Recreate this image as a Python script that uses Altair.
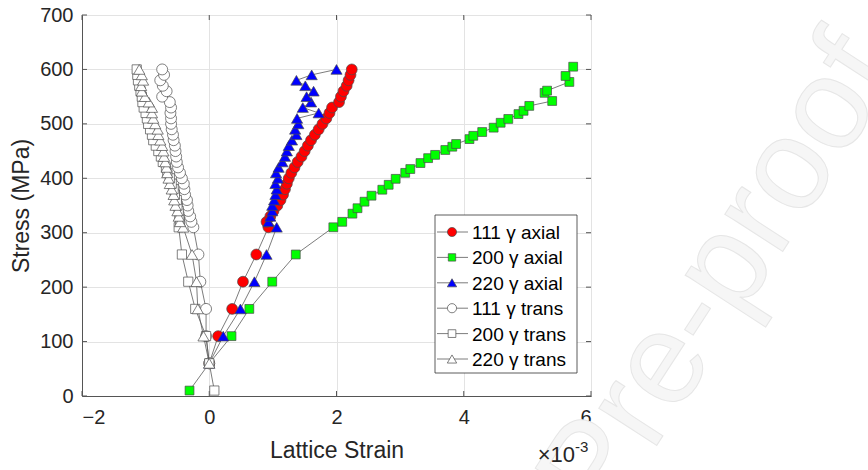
import altair as alt
import pandas as pd

# ---------------- data (strain in units of 1e-3, stress in MPa) ----------------
stress_levels = [60, 110, 160, 210, 260, 310, 320, 330, 340, 350, 360, 370, 380, 390,
                 400, 410, 420, 430, 440, 450, 460, 470, 480, 490, 500, 510, 520, 530,
                 540, 550, 560, 570, 580, 590, 600]

strain_111_axial = [0.00, 0.14, 0.36, 0.53, 0.74, 0.93, 0.90, 0.96, 1.01, 1.07, 1.12, 1.16,
                    1.19, 1.22, 1.25, 1.29, 1.34, 1.39, 1.45, 1.50, 1.55, 1.60, 1.66, 1.72,
                    1.78, 1.84, 1.89, 1.93, 2.04, 2.07, 2.11, 2.16, 2.19, 2.22, 2.24]

strain_220_axial = [0.00, 0.22, 0.49, 0.71, 0.90, 1.06, 0.93, 0.96, 0.99, 0.99, 1.02, 1.04,
                    1.06, 1.04, 1.08, 1.05, 1.09, 1.15, 1.19, 1.22, 1.25, 1.30, 1.37, 1.35,
                    1.40, 1.38, 1.72, 1.47, 1.60, 1.53, 1.64, 1.51, 1.37, 1.61, 2.00]

strain_111_trans = [0.00, -0.05, -0.05, -0.14, -0.17, -0.25, -0.28, -0.30, -0.33, -0.34, -0.35,
                    -0.38, -0.39, -0.40, -0.43, -0.46, -0.49, -0.51, -0.52, -0.53, -0.54, -0.56,
                    -0.57, -0.59, -0.60, -0.60, -0.61, -0.60, -0.62, -0.74, -0.67, -0.73, -0.77,
                    -0.71, -0.74]

strain_220_trans = [0.00, -0.09, -0.18, -0.20, -0.27, -0.41, -0.46, -0.48, -0.50, -0.53, -0.55,
                    -0.56, -0.59, -0.62, -0.64, -0.66, -0.67, -0.69, -0.71, -0.72, -0.74, -0.77,
                    -0.80, -0.81, -0.85, -0.88, -0.90, -0.90, -0.95, -1.01, -1.06, -1.07, -1.04,
                    -1.06, -1.10]

stress_200_trans = [10, 60, 110, 160, 210, 260, 310, 320, 330, 340, 350, 360, 370, 380, 390,
                    400, 410, 420, 430, 440, 450, 460, 470, 480, 490, 500, 510, 520, 530,
                    540, 550, 560, 570, 580, 590, 600]
strain_200_trans = [0.08, 0.00, -0.05, -0.22, -0.33, -0.43, -0.48, -0.46, -0.47, -0.48, -0.50,
                    -0.51, -0.54, -0.56, -0.59, -0.62, -0.66, -0.68, -0.73, -0.76, -0.80, -0.84,
                    -0.88, -0.90, -0.93, -0.96, -0.98, -1.00, -1.03, -1.05, -1.06, -1.08, -1.10,
                    -1.12, -1.13, -1.14]

stress_200_axial = [10, 60, 110, 160, 210, 260, 310, 320, 335, 345, 357, 368, 379, 388, 399,
                    410, 417, 428, 437, 443, 452, 458, 463, 472, 478, 485, 493, 502, 509, 518,
                    524, 533, 542, 557, 561, 577, 588, 605]
strain_200_axial = [-0.31, 0.00, 0.35, 0.63, 0.99, 1.36, 1.95, 2.09, 2.25, 2.33, 2.44, 2.55,
                    2.72, 2.82, 2.93, 3.08, 3.16, 3.32, 3.44, 3.55, 3.71, 3.82, 3.88, 4.09,
                    4.15, 4.29, 4.47, 4.58, 4.70, 4.86, 4.94, 5.03, 5.39, 5.27, 5.31, 5.66,
                    5.60, 5.72]

series_labels = ["111 γ axial", "200 γ axial", "220 γ axial",
                 "111 γ trans", "200 γ trans", "220 γ trans"]

x_tick_values = [-2, 0, 2, 4, 6]
y_tick_values = [0, 100, 200, 300, 400, 500, 600, 700]

# ---------------- table ----------------
series_data = [
    (stress_levels, strain_111_axial),
    (stress_200_axial, strain_200_axial),
    (stress_levels, strain_220_axial),
    (stress_levels, strain_111_trans),
    (stress_200_trans, strain_200_trans),
    (stress_levels, strain_220_trans),
]
rows = []
for lbl, (st, sn) in zip(series_labels, series_data):
    for i, (a, b) in enumerate(zip(st, sn)):
        rows.append({"series": lbl, "stress": a, "strain": b, "order": i})
df = pd.DataFrame(rows)

# styles: shape, fill, marker size
styles = {
    "111 γ axial": ("circle", "#ff0000", 118),
    "200 γ axial": ("square", "#00ff00", 78),
    "220 γ axial": ("triangle-up", "#0000ff", 125),
    "111 γ trans": ("circle", "#ffffff", 120),
    "200 γ trans": ("square", "#ffffff", 85),
    "220 γ trans": ("triangle-up", "#ffffff", 125),
}

FONT = "Liberation Sans"
W, H = 509, 381

xscale = alt.Scale(domain=[-2, 6], nice=False, zero=False)
yscale = alt.Scale(domain=[0, 700], nice=False)
xaxis = alt.Axis(values=x_tick_values, title="Lattice Strain", grid=True, ticks=False,
                 labelPadding=11, titlePadding=12)
yaxis = alt.Axis(values=y_tick_values, title="Stress (MPa)", grid=True, ticks=False,
                 labelPadding=9, titlePadding=6)

X = alt.X("strain:Q", scale=xscale, axis=xaxis)
Y = alt.Y("stress:Q", scale=yscale, axis=yaxis)

layers = []

# watermark
layers.append(
    alt.Chart(alt.Data(values=[{"t": "Journal Pre-proof"}])).mark_text(
        align="right", baseline="middle", angle=303, fontSize=130, font=FONT,
        fill="#f6f6f6", stroke="#e6e6e6", strokeWidth=1
    ).encode(text="t:N", x=alt.value(785), y=alt.value(35))
)

# base layer carrying axes/grid
layers.append(alt.Chart(df).mark_point(opacity=0).encode(x=X, y=Y))

# inward tick marks
xt = pd.DataFrame({"strain": x_tick_values})
yt = pd.DataFrame({"stress": y_tick_values})
tick_color = "#555555"
layers.append(alt.Chart(xt).mark_rule(color=tick_color, strokeWidth=1).encode(
    x=X, y=alt.value(H), y2=alt.value(H - 5)))
layers.append(alt.Chart(xt).mark_rule(color=tick_color, strokeWidth=1).encode(
    x=X, y=alt.value(0), y2=alt.value(5)))
layers.append(alt.Chart(yt).mark_rule(color=tick_color, strokeWidth=1).encode(
    y=Y, x=alt.value(0), x2=alt.value(5)))
layers.append(alt.Chart(yt).mark_rule(color=tick_color, strokeWidth=1).encode(
    y=Y, x=alt.value(W), x2=alt.value(W - 5)))

# data series
for lbl in series_labels:
    shape, fill, size = styles[lbl]
    base = alt.Chart(df).transform_filter(alt.datum.series == lbl)
    layers.append(base.mark_line(color="#5a5a5a", strokeWidth=0.8).encode(
        x=X, y=Y, order="order:Q"))
    layers.append(base.mark_point(shape=shape, filled=True, fill=fill, stroke="#4a4a4a",
                                  strokeWidth=0.7, size=size, opacity=1).encode(x=X, y=Y))

# legend box
layers.append(alt.Chart(alt.Data(values=[{"a": 1}])).mark_rect(
    fill="white", stroke="#333333", strokeWidth=0.8).encode(
    x=alt.value(353), x2=alt.value(495), y=alt.value(200), y2=alt.value(358)))

legend_rows = [217, 242.4, 267.8, 293.2, 318.6, 344]
for lbl, yy in zip(series_labels, legend_rows):
    shape, fill, size = styles[lbl]
    d = alt.Data(values=[{"t": lbl}])
    layers.append(alt.Chart(d).mark_rule(color="#5a5a5a", strokeWidth=0.8).encode(
        x=alt.value(355), x2=alt.value(386), y=alt.value(yy)))
    layers.append(alt.Chart(d).mark_point(shape=shape, filled=True, fill=fill,
                                          stroke="#4a4a4a", strokeWidth=0.7,
                                          size=size * 0.7, opacity=1).encode(
        x=alt.value(370), y=alt.value(yy)))
    layers.append(alt.Chart(d).mark_text(align="left", baseline="middle", fontSize=19,
                                         font=FONT, color="#000000").encode(
        text="t:N", x=alt.value(390), y=alt.value(yy + 1)))

# x10^-3 exponent label
layers.append(alt.Chart(alt.Data(values=[{"t": "×10"}])).mark_text(
    align="right", baseline="alphabetic", fontSize=22, font=FONT, color="#262626").encode(
    text="t:N", x=alt.value(493), y=alt.value(447)))
layers.append(alt.Chart(alt.Data(values=[{"t": "-3"}])).mark_text(
    align="left", baseline="alphabetic", fontSize=15, font=FONT, color="#262626").encode(
    text="t:N", x=alt.value(493), y=alt.value(437)))

chart = alt.layer(*layers).properties(
    width=W, height=H,
    autosize=alt.AutoSizeParams(type="none"),
    padding={"left": 82, "top": 15, "right": 868 - 82 - W, "bottom": 470 - 15 - H},
).configure_view(
    stroke="#555555", strokeWidth=1
).configure_axis(
    labelFont=FONT, titleFont=FONT, labelFontSize=20, titleFontSize=23,
    labelColor="#262626", titleColor="#262626", titleFontWeight="normal",
    domainColor="#555555", domainWidth=1, gridColor="#e3e3e3", gridWidth=1,
)

chart.save("out.html", embed_options={"renderer": "svg", "actions": False})
